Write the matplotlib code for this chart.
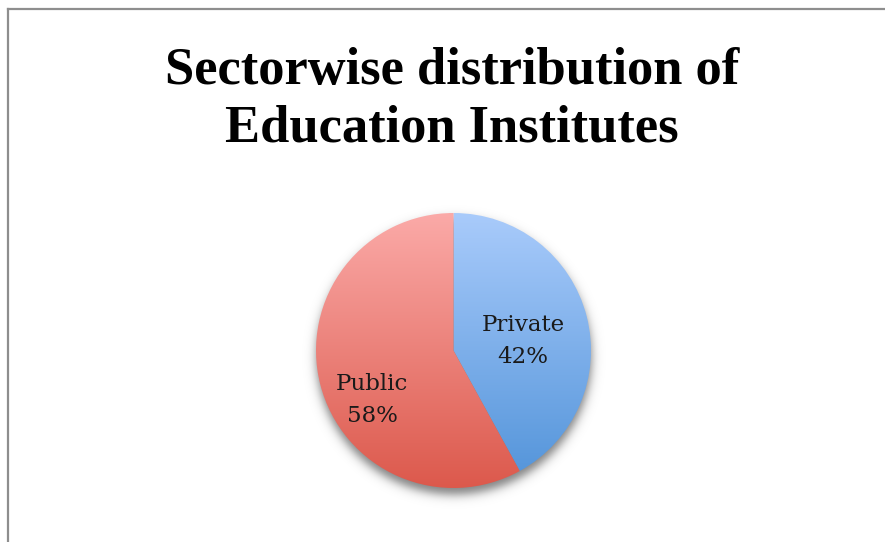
import numpy as np
import matplotlib
matplotlib.use("Agg")
import matplotlib.pyplot as plt
from matplotlib.lines import Line2D
from matplotlib.colors import to_rgb

# ---- data ----
categories = ["Private", "Public"]
shares = [42, 58]
top_colors = ["#a9cbfb", "#fbaaa8"]
bottom_colors = ["#5193d9", "#dc594c"]
title = "Sectorwise distribution of\nEducation Institutes"

W, H = 885, 542
fig = plt.figure(figsize=(W / 100, H / 100), dpi=100)
ax = fig.add_axes([0, 0, 1, 1])
ax.set_xlim(0, W)
ax.set_ylim(0, H)
ax.axis("off")

cx, cy, R = 453.5, H - 350.5, 137.5

# shadow
ys, xs = np.mgrid[0:H, 0:W]
d = np.hypot(xs - cx, (H - ys) - (cy - 6))
alpha = 0.5 / (1 + np.exp((d - R) / 3.0))
shadow = np.zeros((H, W, 4))
shadow[..., 3] = alpha
ax.imshow(shadow, extent=[0, W, 0, H], zorder=1, interpolation="bilinear")

wedges, _ = ax.pie(shares, startangle=90, counterclock=False, center=(cx, cy),
                   radius=R, frame=True,
                   wedgeprops=dict(facecolor="none", edgecolor="none"))
ax.set_xlim(0, W)
ax.set_ylim(0, H)
ax.set_aspect("equal")
ax.axis("off")

n = 256
for w, tc, bc in zip(wedges, top_colors, bottom_colors):
    t = np.linspace(0, 1, n)[:, None]
    grad = (1 - t) * np.array(to_rgb(tc)) + t * np.array(to_rgb(bc))
    img = np.repeat(grad[:, None, :], 2, axis=1)
    im = ax.imshow(img, extent=[cx - R, cx + R, cy - R, cy + R], zorder=2,
                   interpolation="bilinear", aspect="auto")
    im.set_clip_path(w)
ax.set_xlim(0, W)
ax.set_ylim(0, H)

# labels
label_offsets = [(69.5, 9.5), (-81.5, -49.5)]
for name, val, (dx, dy) in zip(categories, shares, label_offsets):
    ax.text(cx + dx, cy + dy, f"{name}\n{val}%", ha="center", va="center",
            fontsize=16.5, family="DejaVu Serif", color="#1a1a1a",
            linespacing=1.55, zorder=3)

fig.text(452 / W, 1 - 100 / H, title, ha="center", va="center",
         fontsize=37.8, fontweight="bold", family="Liberation Serif",
         linespacing=1.27)

# border
fig.add_artist(Line2D([8 / W, 8 / W], [0, 1 - 9 / H], color="#8e8e8e", lw=1.6,
                      transform=fig.transFigure))
fig.add_artist(Line2D([8 / W, 1], [1 - 9 / H, 1 - 9 / H], color="#8e8e8e", lw=1.6,
                      transform=fig.transFigure))

fig.savefig("out.png", dpi=100)
